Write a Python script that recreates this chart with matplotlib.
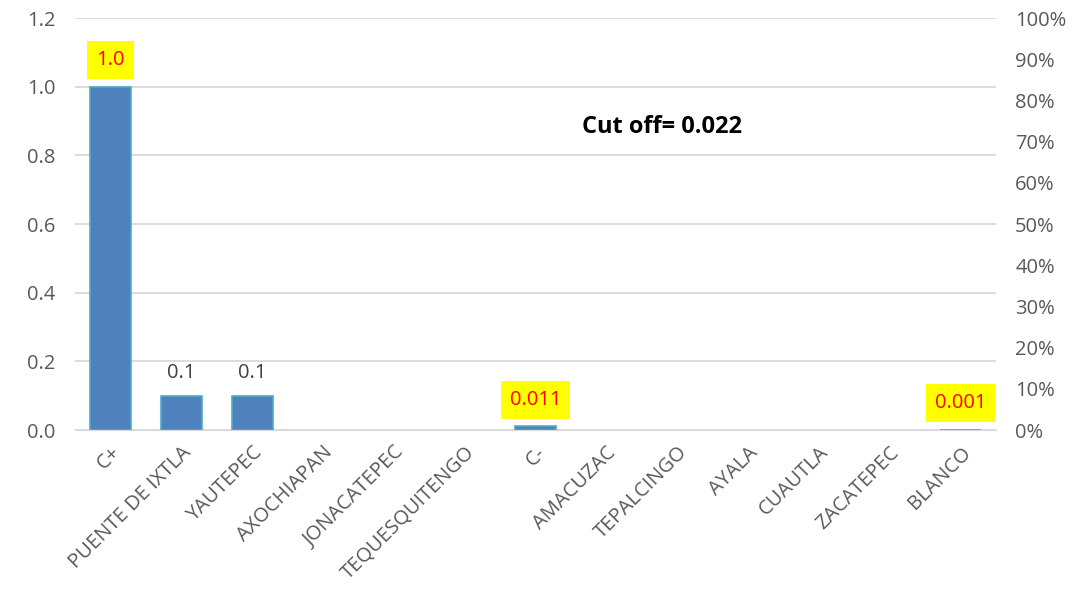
import matplotlib.pyplot as plt
from matplotlib.ticker import PercentFormatter

plt.rcParams['font.family'] = ['Open Sans', 'DejaVu Sans']

# data
categories = ['C+', 'PUENTE DE IXTLA', 'YAUTEPEC', 'AXOCHIAPAN', 'JONACATEPEC',
              'TEQUESQUITENGO', 'C-', 'AMACUZAC', 'TEPALCINGO', 'AYALA',
              'CUAUTLA', 'ZACATEPEC', 'BLANCO']
values = [1.0, 0.1, 0.1, 0, 0, 0, 0.011, 0, 0, 0, 0, 0, 0.001]
labels = {0: '1.0', 1: '0.1', 2: '0.1', 6: '0.011', 12: '0.001'}
highlighted = [0, 6, 12]
cutoff = 0.022

fs = 14.5
fig = plt.figure(figsize=(10.77, 6.13), dpi=100)
ax = fig.add_axes([0.0696, 0.2985, 0.855, 0.672])
x = range(len(categories))
lw = [1.2 if v > 0 else 0 for v in values]
ax.bar(x, values, width=0.58, color='#4f81bd', edgecolor='#4bacc6', linewidth=lw, zorder=3)

ax.set_xlim(-0.5, len(categories) - 0.5)
ax.set_ylim(0, 1.2)
ax.set_yticks([0, 0.2, 0.4, 0.6, 0.8, 1.0, 1.2])
ax.set_yticklabels([f'{v:.1f}' for v in [0, 0.2, 0.4, 0.6, 0.8, 1.0, 1.2]])
ax.grid(axis='y', color='#d9d9d9', linewidth=1.3, zorder=0)
ax.set_xticks(list(x))
ax.set_xticklabels(categories, rotation=45, ha='right', rotation_mode='anchor')
ax.tick_params(axis='both', length=0, labelsize=fs, colors='#595959')
ax.tick_params(axis='x', pad=9)
ax.tick_params(axis='y', pad=14)
for s in ax.spines.values():
    s.set_visible(False)
ax.spines['bottom'].set_visible(True)
ax.spines['bottom'].set_color('#d9d9d9')

for i, txt in labels.items():
    if i in highlighted:
        ax.annotate(txt, (i, values[i]), xytext=(0, 12), textcoords='offset points',
                    ha='center', va='bottom', fontsize=fs, color='red',
                    bbox=dict(boxstyle='square,pad=0.45', facecolor='yellow', edgecolor='none'))
    else:
        ax.annotate(txt, (i, values[i]), xytext=(0, 9), textcoords='offset points',
                    ha='center', va='bottom', fontsize=fs, color='#404040')

ax.text(0.638, 0.735, f'Cut off= {cutoff}', transform=ax.transAxes, ha='center',
        va='center', fontsize=17, fontweight='bold', color='black')

ax2 = ax.twinx()
ax2.set_ylim(0, 1)
ax2.set_yticks([i / 10 for i in range(11)])
ax2.yaxis.set_major_formatter(PercentFormatter(1.0, decimals=0))
ax2.tick_params(axis='y', length=0, labelsize=fs, colors='#595959', pad=14)
for s in ax2.spines.values():
    s.set_visible(False)

fig.savefig('out.png', dpi=100)
